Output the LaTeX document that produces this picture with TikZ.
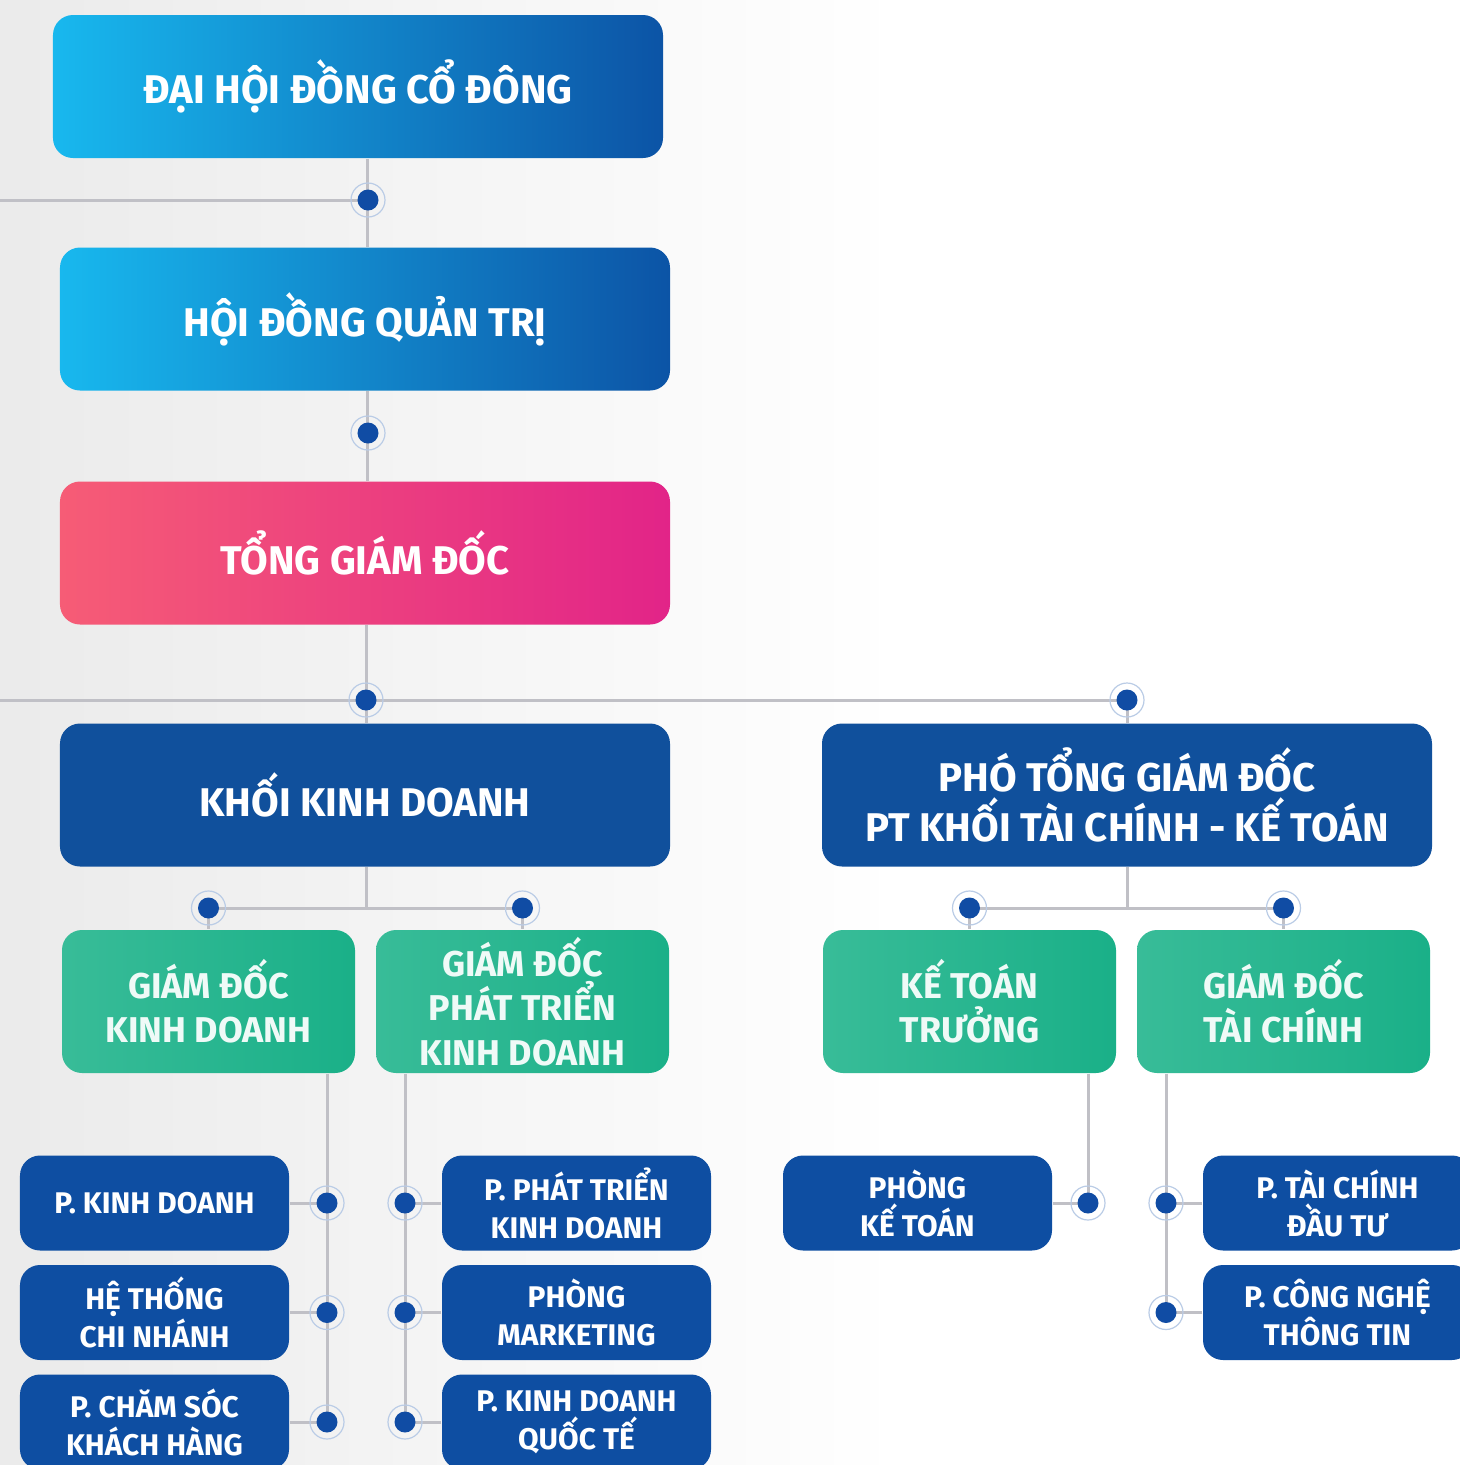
\documentclass[tikz,border=0pt]{standalone}
\usepackage{fontspec}
\setmainfont{Fira Sans}
\usetikzlibrary{calc}

\definecolor{cyanL}{RGB}{24,184,238}
\definecolor{cyanR}{RGB}{12,84,166}
\definecolor{pinkL}{RGB}{246,92,118}
\definecolor{pinkR}{RGB}{226,36,136}
\definecolor{deepblue}{RGB}{16,80,156}
\definecolor{unitblue}{RGB}{14,78,162}
\definecolor{greenL}{RGB}{56,188,152}
\definecolor{greenR}{RGB}{26,176,136}
\definecolor{linegray}{RGB}{192,192,198}
\definecolor{dotblue}{RGB}{16,76,164}
\definecolor{ringblue}{RGB}{186,204,230}

\begin{document}
\begin{tikzpicture}
\tikzstyle{orgbox} = [rectangle, rounded corners=0.2cm, text=white, align=center, inner sep=0pt]
\tikzstyle{topbox} = [orgbox, minimum width=6.1cm, minimum height=1.43cm, font=\fontsize{11.4}{14.2}\selectfont\bfseries]
\tikzstyle{greenbox} = [orgbox, left color=greenL, right color=greenR, minimum width=2.93cm, minimum height=1.43cm, text=white!92!greenL, font=\fontsize{10.2}{12.6}\selectfont\bfseries]
\tikzstyle{unitbox} = [orgbox, fill=unitblue, minimum width=2.69cm, minimum height=0.95cm, font=\fontsize{8.5}{10.8}\selectfont\bfseries]
\tikzstyle{link} = [draw=linegray, line width=0.03cm]
\tikzstyle{joint} = [circle, fill=dotblue, minimum size=0.21cm, inner sep=0pt]

\clip (0,0) rectangle (14.6,-14.65);
\shade[left color=gray!16, right color=white] (0,0) rectangle (9,-14.65);
\fill[white] (9,0) rectangle (14.6,-14.65);

% top levels
\node[topbox, left color=cyanL, right color=cyanR] (dhdcd) at (3.58,-0.865) {ĐẠI HỘI ĐỒNG CỔ ĐÔNG};
\node[topbox, left color=cyanL, right color=cyanR] (hdqt) at (3.65,-3.19) {HỘI ĐỒNG QUẢN TRỊ};
\node[topbox, left color=pinkL, right color=pinkR] (tgd) at (3.65,-5.53) {TỔNG GIÁM ĐỐC};
\node[topbox, fill=deepblue] (kkd) at (3.65,-7.95) {KHỐI KINH DOANH};
\node[topbox, fill=deepblue] (ptgd) at (11.27,-7.95) {PHÓ TỔNG GIÁM ĐỐC\\PT KHỐI TÀI CHÍNH - KẾ TOÁN};

% directors
\node[greenbox] (gdkd) at (2.085,-10.015) {GIÁM ĐỐC\\KINH DOANH};
\node[greenbox] (gdpt) at (5.225,-10.015) {GIÁM ĐỐC\\PHÁT TRIỂN\\KINH DOANH};
\node[greenbox] (ktt) at (9.695,-10.015) {KẾ TOÁN\\TRƯỞNG};
\node[greenbox] (gdtc) at (12.835,-10.015) {GIÁM ĐỐC\\TÀI CHÍNH};

% departments
\node[unitbox] (pkd) at (1.545,-12.03) {P. KINH DOANH};
\node[unitbox] (htcn) at (1.545,-13.125) {HỆ THỐNG\\CHI NHÁNH};
\node[unitbox] (pcskh) at (1.545,-14.22) {P. CHĂM SÓC\\KHÁCH HÀNG};
\node[unitbox] (pptkd) at (5.765,-12.03) {P. PHÁT TRIỂN\\KINH DOANH};
\node[unitbox] (pmkt) at (5.765,-13.125) {PHÒNG\\MARKETING};
\node[unitbox] (pkdqt) at (5.765,-14.22) {P. KINH DOANH\\QUỐC TẾ};
\node[unitbox] (pkt) at (9.175,-12.03) {PHÒNG\\KẾ TOÁN};
\node[unitbox] (ptcdt) at (13.375,-12.03) {P. TÀI CHÍNH\\ĐẦU TƯ};
\node[unitbox] (pcntt) at (13.375,-13.125) {P. CÔNG NGHỆ\\THÔNG TIN};

% junctions
\coordinate (jdh) at (3.68,-2.00);
\coordinate (jqt) at (3.68,-4.33);
\coordinate (jtg) at (3.66,-7.00);
\coordinate (jpt) at (11.27,-7.00);
\coordinate (jkd) at (3.66,-9.08);
\coordinate (jtc) at (11.27,-9.08);
\coordinate (jgdkd) at (2.085,-9.08);
\coordinate (jgdpt) at (5.225,-9.08);
\coordinate (jktt) at (9.695,-9.08);
\coordinate (jgdtc) at (12.835,-9.08);
\coordinate (leftA) at (0,-2.00);
\coordinate (leftB) at (0,-7.00);

\draw[link] (jdh |- dhdcd.south) -- (jdh |- hdqt.north);
\draw[link] (leftA) -- (jdh);
\draw[link] (jqt |- hdqt.south) -- (jqt |- tgd.north);
\draw[link] (jtg |- tgd.south) -- (jtg |- kkd.north);
\draw[link] (leftB) -- (jpt) -- (ptgd.north);
\draw[link] (jkd |- kkd.south) -- (jkd);
\draw[link] (jtc |- ptgd.south) -- (jtc);
\draw[link] (jgdkd) -- (jgdpt);
\draw[link] (jktt) -- (jgdtc);
\draw[link] (jgdkd) -- (gdkd.north);
\draw[link] (jgdpt) -- (gdpt.north);
\draw[link] (jktt) -- (ktt.north);
\draw[link] (jgdtc) -- (gdtc.north);

\coordinate (xkd) at (3.27,0);
\coordinate (xpt) at (4.05,0);
\coordinate (xkt) at (10.88,0);
\coordinate (xtc) at (11.66,0);
\draw[link] (xkd |- gdkd.south) -- (xkd |- pcskh.center);
\draw[link] (xpt |- gdpt.south) -- (xpt |- pkdqt.center);
\draw[link] (xkt |- ktt.south) -- (xkt |- pkt.center);
\draw[link] (xtc |- gdtc.south) -- (xtc |- pcntt.center);
\foreach \u in {pkd,htcn,pcskh} \draw[link] (\u.east) -- (xkd |- \u.center);
\foreach \u in {pptkd,pmkt,pkdqt} \draw[link] (\u.west) -- (xpt |- \u.center);
\draw[link] (pkt.east) -- (xkt |- pkt.center);
\foreach \u in {ptcdt,pcntt} \draw[link] (\u.west) -- (xtc |- \u.center);

% dots on top
\foreach \j in {jdh,jqt,jtg,jpt,jgdkd,jgdpt,jktt,jgdtc}
  \node[joint] at (\j) {};
\foreach \u in {pkd,htcn,pcskh} \node[joint] at (xkd |- \u.center) {};
\foreach \u in {pptkd,pmkt,pkdqt} \node[joint] at (xpt |- \u.center) {};
\node[joint] at (xkt |- pkt.center) {};
\foreach \u in {ptcdt,pcntt} \node[joint] at (xtc |- \u.center) {};
\foreach \j in {jdh,jqt,jtg,jpt,jgdkd,jgdpt,jktt,jgdtc}
  \draw[ringblue, line width=0.012cm] (\j) circle (0.17);
\foreach \u in {pkd,htcn,pcskh} \draw[ringblue, line width=0.012cm] (xkd |- \u.center) circle (0.17);
\foreach \u in {pptkd,pmkt,pkdqt} \draw[ringblue, line width=0.012cm] (xpt |- \u.center) circle (0.17);
\draw[ringblue, line width=0.012cm] (xkt |- pkt.center) circle (0.17);
\foreach \u in {ptcdt,pcntt} \draw[ringblue, line width=0.012cm] (xtc |- \u.center) circle (0.17);

\end{tikzpicture}
\end{document}
